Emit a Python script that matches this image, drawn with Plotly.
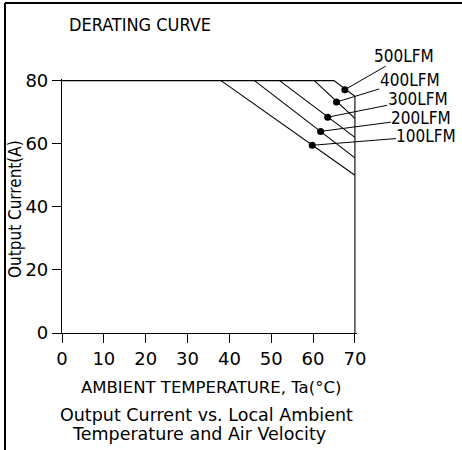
import plotly.graph_objects as go

# ---- data ----
x_ticks = [0, 10, 20, 30, 40, 50, 60, 70]
y_ticks = [0, 20, 40, 60, 80]

# envelope: 80 A plateau, 500LFM corner, 70 C limit
env_x = [0, 65, 70, 70]
env_y = [80, 80, 75, 0]

lfm_labels = ["100LFM", "200LFM", "300LFM", "400LFM", "500LFM"]
line_x = [[38, 70], [46, 70], [52, 70], [60.3, 70]]
line_y = [[80, 50], [80, 55.5], [80, 62], [80, 68]]

marker_x = [59.8, 61.8, 63.5, 65.6, 67.6]
marker_y = [59.5, 63.9, 68.4, 73.2, 77.1]
label_x = [87.1, 85.9, 85.0, 83.1, 81.7]
label_y = [62.4, 68.1, 74.1, 80.3, 87.9]

COND = "DejaVu Sans Condensed, DejaVu Sans, sans-serif"
REG = "DejaVu Sans, sans-serif"
BLACK = "#000000"

fig = go.Figure()

fig.add_trace(go.Scatter(x=env_x, y=env_y, mode="lines",
                         line=dict(color=BLACK, width=1.1), showlegend=False,
                         hoverinfo="skip"))
for lx, ly in zip(line_x, line_y):
    fig.add_trace(go.Scatter(x=lx, y=ly, mode="lines",
                             line=dict(color=BLACK, width=1.1), showlegend=False,
                             hoverinfo="skip"))
fig.add_trace(go.Scatter(x=marker_x, y=marker_y, mode="markers",
                         marker=dict(color=BLACK, size=7, symbol="circle"),
                         showlegend=False, cliponaxis=False))

for name, mx, my, tx, ty in zip(lfm_labels, marker_x, marker_y, label_x, label_y):
    fig.add_annotation(x=mx, y=my, ax=tx, ay=ty, xref="x", yref="y",
                       axref="x", ayref="y", text=name, showarrow=True,
                       arrowhead=0, arrowwidth=1, arrowcolor=BLACK,
                       font=dict(family=COND, size=17, color=BLACK),
                       borderpad=0)

# plot area geometry (pixels) used for paper-coordinate text placement
L, R, T, B = 62, 105, 79, 117
W, H = 462, 450
pw, ph = W - L - R, H - T - B

def px(xp):
    return (xp - L) / pw

def py(yp):
    return (H - B - yp) / ph

def caption(text, xp, yp, size, family=REG, angle=0):
    fig.add_annotation(x=px(xp), y=py(yp), xref="paper", yref="paper",
                       xanchor="center", yanchor="middle", text=text,
                       showarrow=False, textangle=angle,
                       font=dict(family=family, size=size, color=BLACK))

caption("AMBIENT TEMPERATURE, Ta(°C)", 211, 387, 16.5)
caption("Output Current vs. Local Ambient", 206, 415, 17.5)
caption("Temperature and Air Velocity", 199, 434, 17.5)
caption("Output Current(A)", 15, 209, 17, family=COND, angle=-90)

# frame (left and top border)
fig.add_shape(type="line", xref="paper", yref="paper",
              x0=px(5), y0=py(452), x1=px(5), y1=py(3),
              line=dict(color=BLACK, width=2))
fig.add_shape(type="line", xref="paper", yref="paper",
              x0=px(5), y0=py(3), x1=px(464), y1=py(3),
              line=dict(color=BLACK, width=2))

fig.update_layout(
    width=W, height=H,
    margin=dict(l=L, r=R, t=T, b=B),
    paper_bgcolor="white", plot_bgcolor="white",
    title=dict(text="DERATING CURVE", x=140 / W, y=1 - 25 / H,
               xanchor="center", yanchor="middle", xref="container",
               yref="container",
               font=dict(family=COND, size=18, color=BLACK)),
    font=dict(family=REG, size=17, color=BLACK),
    showlegend=False,
)
fig.update_xaxes(range=[0, 70.5], tickvals=x_ticks, ticks="outside",
                 ticklen=9, tickcolor=BLACK, tickwidth=1, showline=True,
                 linecolor=BLACK, linewidth=1.2, showgrid=False, zeroline=False,
                 tickfont=dict(family=REG, size=18, color=BLACK))
fig.update_yaxes(range=[0, 80.5], tickvals=y_ticks, ticks="outside",
                 ticklen=9, tickcolor=BLACK, tickwidth=1, showline=True,
                 linecolor=BLACK, linewidth=1.2, showgrid=False, zeroline=False,
                 tickfont=dict(family=REG, size=18, color=BLACK))

fig.write_html("out.html")
